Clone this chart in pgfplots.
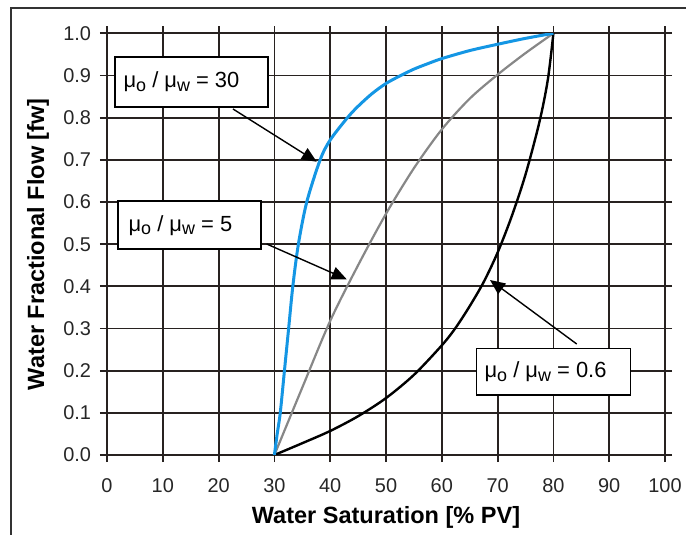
\documentclass[border=0pt]{standalone}
\usepackage{fontspec}
\setmainfont{Liberation Sans}
\usepackage{pgfplots}
\pgfplotsset{compat=1.18}
\usetikzlibrary{arrows.meta}
\definecolor{cblue}{RGB}{20,150,228}
\definecolor{cgray}{RGB}{135,135,135}
\definecolor{cgrid}{RGB}{40,34,32}
\newcommand{\ratio}[1]{μ\raisebox{-0.3ex}{\fontsize{9}{10}\selectfont o} / μ\raisebox{-0.3ex}{\fontsize{9}{10}\selectfont w} = #1}
\begin{document}
\begin{tikzpicture}
\begin{axis}[
  at={(53.5bp,40bp)}, anchor=south west,
  scale only axis, width=279bp, height=210.85bp,
  xmin=0, xmax=100, ymin=0, ymax=1,
  xtick={0,10,...,100},
  ytick={0,0.1,0.2,0.3,0.4,0.5,0.6,0.7,0.8,0.9,1.0},
  grid=major,
  major grid style={cgrid, line width=0.9bp},
  axis line style={cgrid, line width=0.9bp},
  tick style={cgrid, line width=0.9bp},
  tick align=outside, major tick length=3.5bp,
  /pgf/number format/assume math mode=true,
  yticklabel style={/pgf/number format/fixed, /pgf/number format/fixed zerofill, /pgf/number format/precision=1, xshift=-1bp},
  xticklabel style={yshift=-5bp},
  ticklabel style={font=\fontsize{10}{12}\selectfont, text=black!85},
  xlabel={Water Saturation [\% PV]},
  ylabel={Water Fractional Flow [fw]},
  label style={font=\fontsize{11.8}{13}\selectfont\bfseries},
  xlabel style={at={(axis description cs:0.5,-0.147)}, anchor=center},
  ylabel style={at={(axis description cs:-0.1237,0.5)}, anchor=center},
]
\addplot[cgray, line width=1.1bp, smooth, tension=0.5] coordinates {
(30,0) (35,0.16) (40,0.318) (45,0.45) (50,0.572) (55,0.68) (60,0.772) (65,0.845) (70,0.902) (75,0.953) (80,1.0)};
\addplot[black, line width=1.2bp, smooth, tension=0.5] coordinates {
(30,0) (35,0.028) (40,0.057) (45,0.092) (50,0.135) (55,0.19) (60,0.26) (62.5,0.302) (65,0.353) (67.5,0.41) (70,0.48) (72.5,0.565) (75,0.665) (77.5,0.79) (79,0.89) (80,1.0)};
\addplot[cblue, line width=1.5bp, smooth, tension=0.5] coordinates {
(30,0) (30.5,0.05) (31.05,0.1) (31.8,0.2) (32.55,0.3) (33.3,0.4) (34.3,0.5) (35.8,0.6) (38.2,0.7) (40,0.747) (43.1,0.8) (45,0.827) (47.5,0.857) (50,0.881) (52.5,0.899) (55,0.915) (57.5,0.928) (60,0.94) (65,0.959) (70,0.974) (75,0.988) (80,1.0)};
% annotation boxes
\draw[black, line width=0.8bp, fill=white] (axis cs:1.43,0.944) rectangle (axis cs:28.85,0.825);
\node[anchor=west, inner sep=0pt, font=\fontsize{11}{13}\selectfont] at (axis cs:2.9,0.8845) {\ratio{30}};
\draw[black, line width=0.8bp, fill=white] (axis cs:1.97,0.602) rectangle (axis cs:27.6,0.488);
\node[anchor=west, inner sep=0pt, font=\fontsize{11}{13}\selectfont] at (axis cs:3.8,0.545) {\ratio{5}};
\draw[black, line width=0.8bp, fill=white] (axis cs:66.25,0.253) rectangle (axis cs:93.85,0.142);
\node[anchor=west, inner sep=0pt, font=\fontsize{11}{13}\selectfont] at (axis cs:67.6,0.1975) {\ratio{0.6}};
% arrows
\draw[black, line width=0.7bp, -{Triangle[length=7.5bp,width=6.5bp]}] (axis cs:22.58,0.8205) -- (axis cs:37.58,0.6955);
\draw[black, line width=0.7bp, -{Triangle[length=7.5bp,width=6.5bp]}] (axis cs:28.62,0.5004) -- (axis cs:42.96,0.4167);
\draw[black, line width=0.7bp, -{Triangle[length=7.5bp,width=6.5bp]}] (axis cs:84.18,0.2632) -- (axis cs:68.64,0.415);
\end{axis}
\draw[black!80, line width=0.9bp] (5.5bp,0bp) -- (5.5bp,263.5bp) -- (343bp,263.5bp);
\pgfresetboundingbox
\useasboundingbox (0bp,0bp) rectangle (343bp,267.5bp);
\end{tikzpicture}
\end{document}
